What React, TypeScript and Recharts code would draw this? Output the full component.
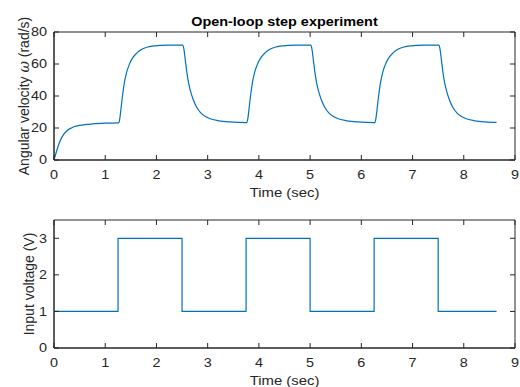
import { LineChart, Line, XAxis, YAxis, Label, ReferenceArea } from 'recharts'

// angular velocity samples (sec, rad/s)
const speedTime = [
  0, 0.05, 0.1, 0.15, 0.2, 0.27, 0.35, 0.4, 0.5, 0.6, 0.76, 1.0, 1.265,
  1.285, 1.315, 1.345, 1.375, 1.415, 1.465, 1.535, 1.615, 1.715, 1.815, 1.915, 2.065, 2.265, 2.515,
  2.535, 2.565, 2.595, 2.625, 2.665, 2.715, 2.785, 2.865, 2.965, 3.065, 3.215, 3.415, 3.765,
  3.785, 3.815, 3.845, 3.875, 3.915, 3.965, 4.035, 4.115, 4.215, 4.315, 4.415, 4.565, 4.765, 5.015,
  5.035, 5.065, 5.095, 5.125, 5.165, 5.215, 5.285, 5.365, 5.465, 5.565, 5.715, 5.915, 6.265,
  6.285, 6.315, 6.345, 6.375, 6.415, 6.465, 6.535, 6.615, 6.715, 6.815, 6.915, 7.065, 7.265, 7.515,
  7.535, 7.565, 7.595, 7.625, 7.665, 7.715, 7.785, 7.865, 7.965, 8.065, 8.215, 8.415, 8.64,
]
const speedValue = [
  0, 5.5, 10.5, 14, 16.5, 18.8, 20.2, 20.9, 21.6, 22.1, 22.6, 23.0, 23.2,
  26, 34, 42, 48.5, 54.5, 59.3, 63.8, 66.8, 69.2, 70.5, 71.2, 71.6, 71.8, 71.8,
  69.5, 62, 54.5, 48.5, 43, 38, 33, 29.5, 27, 25.6, 24.5, 23.8, 23.4,
  26, 34, 42, 48.5, 54.5, 59.3, 63.8, 66.8, 69.2, 70.5, 71.2, 71.6, 71.8, 71.8,
  69.5, 62, 54.5, 48.5, 43, 38, 33, 29.5, 27, 25.6, 24.5, 23.8, 23.4,
  26, 34, 42, 48.5, 54.5, 59.3, 63.8, 66.8, 69.2, 70.5, 71.2, 71.6, 71.8, 71.8,
  69.5, 62, 54.5, 48.5, 43, 38, 33, 29.5, 27, 25.6, 24.5, 23.8, 23.5,
]

// input voltage steps (sec, V)
const voltTime = [0, 1.25, 2.5, 3.75, 5, 6.25, 7.5, 8.64]
const voltValue = [1, 3, 1, 3, 1, 3, 1, 1]

const timeTicks = [0, 1, 2, 3, 4, 5, 6, 7, 8, 9]
const speedTicks = [0, 20, 40, 60, 80]
const voltTicks = [0, 1, 2, 3]

const speedData = speedTime.map((t, i) => ({ t, w: speedValue[i] }))
const voltData = voltTime.map((t, i) => ({ t, v: voltValue[i] }))

const AX = '#262626'
const LINE = '#0072BD'
const FONT = '"Liberation Sans", Arial, sans-serif'
const TICK_LEN = 5
const STRETCH = 1.2 // the reference text is drawn a bit wide
const PLOT_W = 461
const PLOT_H = 128

// bottom ticks also draw the matching inward tick on the top edge of the box
const BottomTick = (p: any) => (
  <g>
    <line x1={p.x} x2={p.x} y1={p.y} y2={p.y - TICK_LEN} stroke={AX} strokeWidth={1} />
    <line x1={p.x} x2={p.x} y1={p.y - PLOT_H} y2={p.y - PLOT_H + TICK_LEN} stroke={AX} strokeWidth={1} />
    <text
      transform={`translate(${p.x},${p.y + 18.5}) scale(${STRETCH},1)`}
      textAnchor="middle"
      fontSize={12}
      fill={AX}
      fontFamily={FONT}
    >
      {p.payload.value}
    </text>
  </g>
)

// left ticks also draw the matching inward tick on the right edge of the box
const LeftTick = (p: any) => (
  <g>
    <line x1={p.x} x2={p.x + TICK_LEN} y1={p.y} y2={p.y} stroke={AX} strokeWidth={1} />
    <line x1={p.x + PLOT_W} x2={p.x + PLOT_W - TICK_LEN} y1={p.y} y2={p.y} stroke={AX} strokeWidth={1} />
    <text
      transform={`translate(${p.x - 7},${p.y + 4.3}) scale(${STRETCH},1)`}
      textAnchor="end"
      fontSize={12}
      fill={AX}
      fontFamily={FONT}
    >
      {p.payload.value}
    </text>
  </g>
)

const SpeedLabel = (p: any) => {
  const vb = p.viewBox
  const cy = vb.y + vb.height / 2
  const cx = 24
  return (
    <text
      x={cx}
      y={cy}
      transform={`rotate(-90 ${cx} ${cy})`}
      textAnchor="middle"
      dominantBaseline="central"
      fontSize={14}
      fill={AX}
      fontFamily={FONT}
    >
      Angular velocity <tspan fontStyle="italic" fontFamily='"DejaVu Serif", serif'>ω</tspan> (rad/s)
    </text>
  )
}

const VoltLabel = (p: any) => {
  const vb = p.viewBox
  const cy = vb.y + vb.height / 2
  const cx = 29
  return (
    <text
      x={cx}
      y={cy}
      transform={`rotate(-90 ${cx} ${cy})`}
      textAnchor="middle"
      dominantBaseline="central"
      fontSize={14}
      fill={AX}
      fontFamily={FONT}
    >
      Input voltage (V)
    </text>
  )
}

const TimeLabel = (p: any) => {
  const vb = p.viewBox
  return (
    <text
      transform={`translate(${vb.x + vb.width / 2},${vb.y + 36.5}) scale(${STRETCH},1)`}
      textAnchor="middle"
      fontSize={12.4}
      fill={AX}
      fontFamily={FONT}
    >
      Time (sec)
    </text>
  )
}

export default function App() {
  return (
    <div style={{ position: 'absolute', left: 0, top: 0, width: 520, height: 387, background: '#fff', overflow: 'hidden' }}>
      <div
        style={{
          position: 'absolute',
          top: 14.5,
          left: 54,
          width: 461,
          textAlign: 'center',
          fontFamily: FONT,
          fontWeight: 'bold',
          fontSize: 12,
          lineHeight: '14px',
          color: '#000',
          transform: `scaleX(${STRETCH})`,
          transformOrigin: 'center',
        }}
      >
        Open-loop step experiment
      </div>

      {/* top: angular velocity */}
      <div style={{ position: 'absolute', left: 0, top: 0 }}>
        <LineChart width={520} height={200} data={speedData} margin={{ top: 32, right: 5, bottom: 0, left: 0 }}>
          <XAxis
            dataKey="t"
            type="number"
            domain={[0, 9]}
            ticks={timeTicks}
            height={40}
            tickSize={0}
            tickMargin={0}
            tickLine={false}
            axisLine={{ stroke: AX }}
            tick={BottomTick}
            interval={0}
          >
            <Label content={TimeLabel} />
          </XAxis>
          <YAxis
            type="number"
            domain={[0, 80]}
            ticks={speedTicks}
            width={54}
            tickSize={0}
            tickMargin={0}
            tickLine={false}
            axisLine={{ stroke: AX }}
            tick={LeftTick}
            interval={0}
          >
            <Label content={SpeedLabel} />
          </YAxis>
          <ReferenceArea x1={0} x2={9} y1={0} y2={80} fill="none" stroke={AX} strokeWidth={1} ifOverflow="visible" />
          <Line type="monotone" dataKey="w" stroke={LINE} strokeWidth={1.2} dot={false} isAnimationActive={false} />
        </LineChart>
      </div>

      {/* bottom: input voltage */}
      <div style={{ position: 'absolute', left: 0, top: 200 }}>
        <LineChart width={520} height={187} data={voltData} margin={{ top: 20, right: 5, bottom: 0, left: 0 }}>
          <XAxis
            dataKey="t"
            type="number"
            domain={[0, 9]}
            ticks={timeTicks}
            height={39}
            tickSize={0}
            tickMargin={0}
            tickLine={false}
            axisLine={{ stroke: AX }}
            tick={BottomTick}
            interval={0}
          >
            <Label content={TimeLabel} />
          </XAxis>
          <YAxis
            type="number"
            domain={[0, 3.5]}
            ticks={voltTicks}
            width={54}
            tickSize={0}
            tickMargin={0}
            tickLine={false}
            axisLine={{ stroke: AX }}
            tick={LeftTick}
            interval={0}
          >
            <Label content={VoltLabel} />
          </YAxis>
          <ReferenceArea x1={0} x2={9} y1={0} y2={3.5} fill="none" stroke={AX} strokeWidth={1} ifOverflow="visible" />
          <Line type="stepAfter" dataKey="v" stroke={LINE} strokeWidth={1.2} dot={false} isAnimationActive={false} />
        </LineChart>
      </div>
    </div>
  )
}
